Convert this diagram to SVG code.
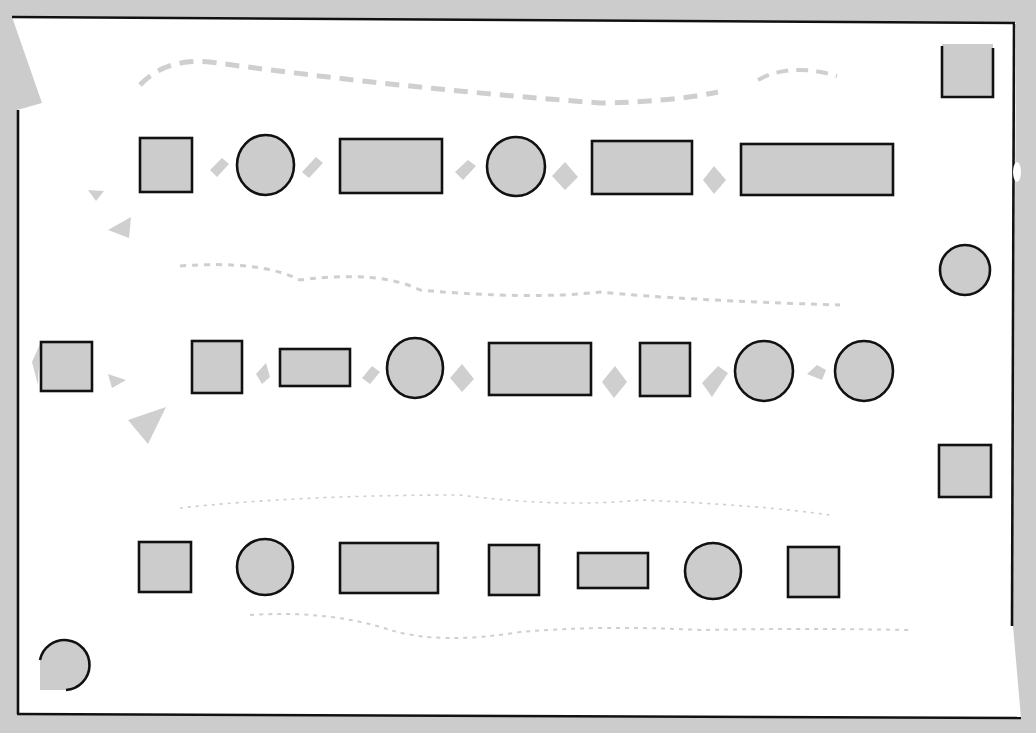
<svg xmlns="http://www.w3.org/2000/svg" width="1036" height="733" viewBox="0 0 1036 733">
<defs>
<style>
.n{fill:#cccccc;stroke:#111111;stroke-width:2.6}
.b{stroke:#111111;stroke-width:2.6;fill:none}
.w{fill:none;stroke:#cfcfcf;stroke-linecap:butt}
.a{fill:#cfcfcf;stroke:none}
</style>
</defs>
<rect x="0" y="0" width="1036" height="733" fill="#cccccc"/>
<path d="M12,17 L1016,23 L1013,626 L1021,718 L17,714 L17,110 L42,103 Z" fill="#ffffff"/>
<g id="frame">
<path class="b" d="M12,17 L1015,23"/>
<path class="b" d="M1014,24 L1012,626"/>
<path class="b" d="M18,110 L18,714"/>
<path class="b" d="M17,714 L1021,718"/>
<ellipse cx="1017" cy="172" rx="4" ry="10" fill="#ffffff"/>
</g>
<g id="connectors">
<path class="w" d="M140,85 Q165,58 210,62 Q400,88 600,103 Q670,102 718,92" stroke-width="5" stroke-dasharray="14 9"/>
<path class="w" d="M758,80 Q790,62 837,76" stroke-width="4" stroke-dasharray="12 8"/>
<path class="w" d="M180,266 Q260,260 300,280 Q380,270 420,290 Q530,300 600,292 Q680,300 840,305" stroke-width="3" stroke-dasharray="6 6"/>
<path class="w" d="M180,508 Q300,495 460,495 Q560,508 640,500 Q760,505 830,515" stroke-width="1.6" stroke-dasharray="3 5"/>
<path class="w" d="M250,615 Q330,610 390,630 Q440,645 520,632 Q600,625 700,630 Q800,628 910,630" stroke-width="2" stroke-dasharray="4 5"/>
<path class="a" d="M210,170 L222,158 L229,164 L217,177 Z"/>
<path class="a" d="M302,172 L316,157 L323,163 L309,178 Z"/>
<path class="a" d="M455,172 L468,160 L476,166 L463,180 Z"/>
<path class="a" d="M552,176 L565,162 L578,177 L565,190 Z"/>
<path class="a" d="M703,180 L714,166 L726,180 L714,194 Z"/>
<path class="a" d="M88,190 L104,191 L96,201 Z"/>
<path class="a" d="M108,230 L131,217 L129,238 Z"/>
<path class="a" d="M256,374 L266,363 L270,377 L262,384 Z"/>
<path class="a" d="M362,378 L372,366 L380,372 L370,384 Z"/>
<path class="a" d="M450,378 L462,364 L474,379 L462,392 Z"/>
<path class="a" d="M602,382 L615,366 L627,382 L614,398 Z"/>
<path class="a" d="M702,383 L718,366 L728,373 L712,397 Z"/>
<path class="a" d="M807,374 L817,365 L826,370 L822,380 Z"/>
<path class="a" d="M108,374 L126,380 L112,388 Z"/>
<path class="a" d="M128,420 L166,407 L148,444 Z"/>
<path class="a" d="M40,344 L32,362 L38,385 Z"/>
</g>
<g id="n1"><rect class="n" x="140" y="138" width="52" height="54"/></g>
<g id="n2"><ellipse class="n" cx="265.5" cy="165" rx="28.5" ry="30"/></g>
<g id="n3"><rect class="n" x="340" y="139" width="102" height="54"/></g>
<g id="n4"><ellipse class="n" cx="516" cy="166.5" rx="29" ry="29.5"/></g>
<g id="n5"><rect class="n" x="592" y="141" width="100" height="53"/></g>
<g id="n6"><rect class="n" x="741" y="144" width="152" height="51"/></g>
<g id="n7"><rect fill="#cccccc" x="942" y="44" width="51" height="53"/><path class="b" d="M942,46 L942,97 L993,97 L993,48"/></g>
<g id="n8"><circle class="n" cx="965" cy="270" r="25"/></g>
<g id="n9"><rect class="n" x="41" y="342" width="51" height="49"/></g>
<g id="n10"><rect class="n" x="192" y="341" width="50" height="52"/></g>
<g id="n11"><rect class="n" x="280" y="349" width="70" height="37"/></g>
<g id="n12"><ellipse class="n" cx="415" cy="368" rx="28" ry="30"/></g>
<g id="n13"><rect class="n" x="489" y="343" width="102" height="52"/></g>
<g id="n14"><rect class="n" x="640" y="343" width="50" height="53"/></g>
<g id="n15"><ellipse class="n" cx="764" cy="371" rx="29" ry="30"/></g>
<g id="n16"><ellipse class="n" cx="864" cy="371" rx="29" ry="30"/></g>
<g id="n17"><rect class="n" x="939" y="445" width="52" height="52"/></g>
<g id="n18"><rect class="n" x="139" y="542" width="52" height="50"/></g>
<g id="n19"><ellipse class="n" cx="265" cy="567" rx="28" ry="28"/></g>
<g id="n20"><rect class="n" x="340" y="543" width="98" height="50"/></g>
<g id="n21"><rect class="n" x="489" y="545" width="50" height="50"/></g>
<g id="n22"><rect class="n" x="578" y="553" width="70" height="35"/></g>
<g id="n23"><ellipse class="n" cx="713" cy="571" rx="28" ry="28"/></g>
<g id="n24"><rect class="n" x="788" y="547" width="51" height="50"/></g>
<g id="n25"><path d="M40,690 L40,660 A25,25 0 1 1 66,690 Z" fill="#cccccc"/><path class="b" d="M40,660 A25,25 0 1 1 66,690"/></g>
</svg>
